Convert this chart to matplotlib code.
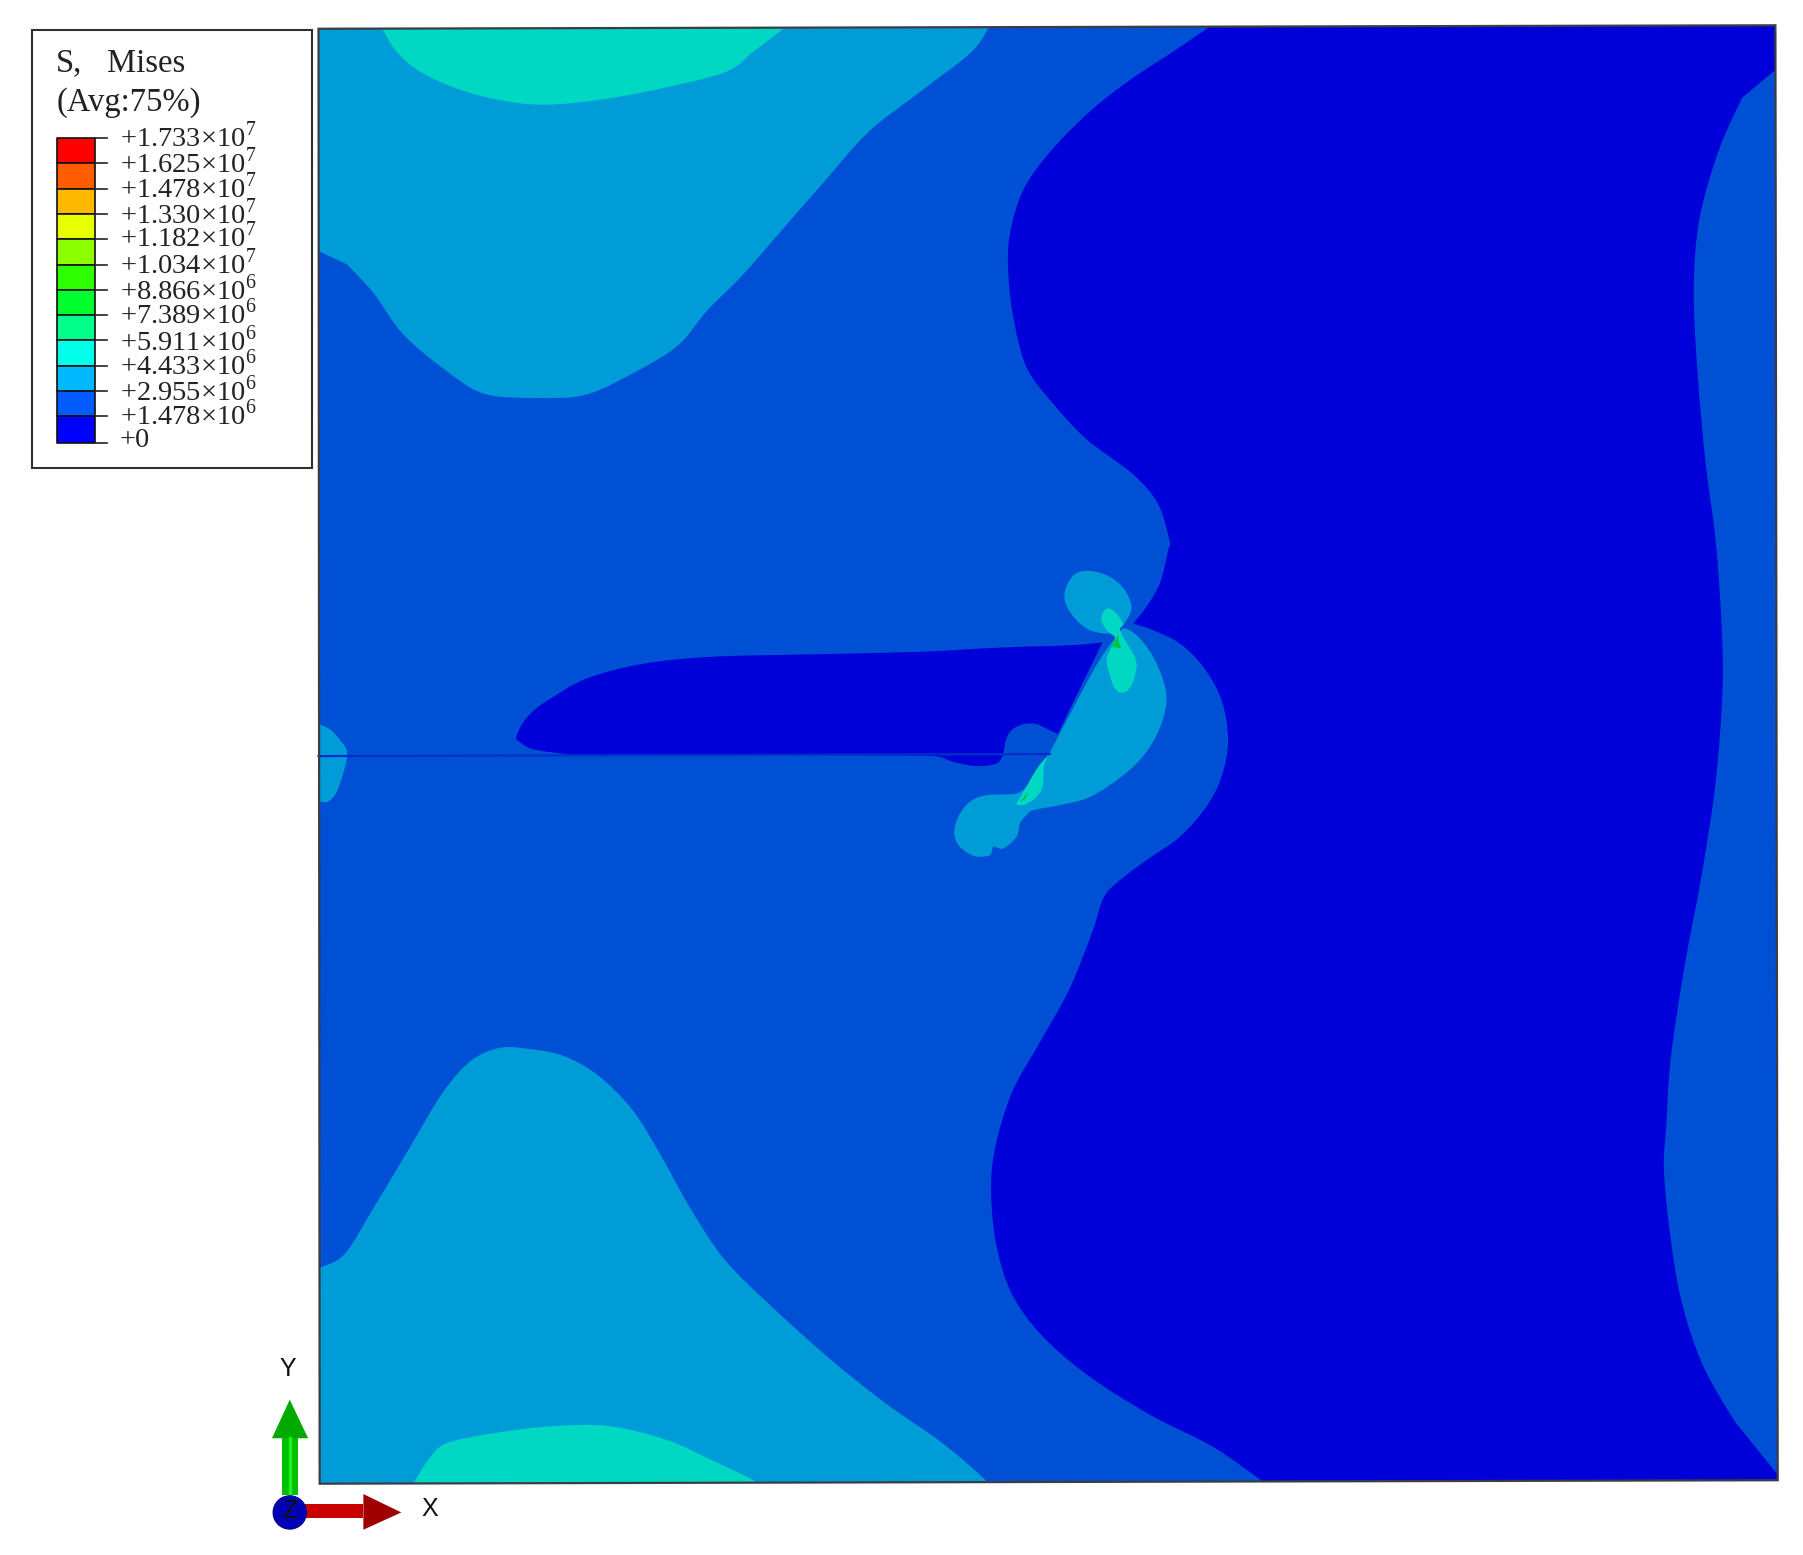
"""Contorno S, Mises de la placa con grieta, redibujado con matplotlib."""

import matplotlib

matplotlib.use("Agg")
from matplotlib import pyplot as plt
from matplotlib.patches import Circle, PathPatch, Polygon
from matplotlib.path import Path

plt.rcParams["mathtext.fontset"] = "custom"
plt.rcParams["mathtext.rm"] = "Liberation Serif"

DARK = "#0000d8"
MID = "#0050d6"
LIGHT = "#009cd8"
TEAL = "#00d8c4"
DEEP_GREEN = "#00c040"

# leyenda
LEGEND_LABELS = [
    "+1.733×10$^{7}$", "+1.625×10$^{7}$", "+1.478×10$^{7}$", "+1.330×10$^{7}$",
    "+1.182×10$^{7}$", "+1.034×10$^{7}$", "+8.866×10$^{6}$", "+7.389×10$^{6}$",
    "+5.911×10$^{6}$", "+4.433×10$^{6}$", "+2.955×10$^{6}$", "+1.478×10$^{6}$",
    "+0",
]
LEGEND_COLORS = [
    "#ff0000", "#ff5c00", "#ffb900", "#e8ff00", "#8bff00", "#2eff00",
    "#00ff2e", "#00ff8b", "#00ffe8", "#00b9ff", "#005cff", "#0000ff",
]
LEGEND_TICKS = [120, 142, 164, 186, 208, 230, 252, 274, 296, 318, 340, 362, 385]
LABEL_ROWS = [119, 142, 164, 186, 206, 230, 252, 273, 297, 318, 340, 361, 383]

# contornos, en coordenadas de la imagen
PLATE = [(277, 25), (1544, 22), (1546, 1287), (278, 1290)]

DARK_REGION = [
    (1052, 23), (1020, 45), (985, 68), (950, 95), (915, 130), (890, 165), (878, 205),
    (877, 240), (882, 280), (893, 320), (915, 350), (945, 382), (985, 412), (1007, 438),
    (1017, 470), (1016, 478), (1008.7, 507), (997, 527.6), (985.5, 542), (985.5, 542),
    (1003, 548), (1026, 559.5), (1046.4, 579.8), (1062.3, 608.7), (1068, 643.5),
    (1062.3, 675.4), (1049, 701.5), (1026, 727.6), (997, 747.9), (974, 765.3),
    (960, 780), (950, 810), (930, 860), (905, 905), (880, 950), (865, 1000), (862, 1040),
    (867, 1085), (880, 1125), (905, 1160), (945, 1195), (1000, 1230), (1055, 1258),
    (1098, 1288), (1098, 1288), (1550, 1288), (1550, 1288), (1546, 1282), (1520, 1250),
    (1505, 1230), (1480, 1185), (1462, 1130), (1452, 1070), (1447, 1015), (1449, 980),
    (1453, 920), (1465, 840), (1480, 760), (1492, 680), (1498, 600), (1497, 540),
    (1492, 470), (1483, 400), (1476, 320), (1473, 250), (1478, 190), (1495, 130),
    (1515, 85), (1515, 85), (1545, 60), (1545, 60), (1545, 20), (1545, 20), (1052, 20),
    (1052, 20),
]
TOP_LIGHT = [
    (270, 20), (270, 20), (862, 20), (862, 20), (845, 45), (800, 80), (755, 115), (715, 160),
    (680, 200), (645, 240), (615, 270), (590, 300), (555, 322), (510, 343), (465, 346),
    (420, 342), (385, 320), (350, 290), (325, 255), (302, 230), (302, 230), (270, 215),
    (270, 215),
]
TOP_TEAL = [
    (332, 20), (332, 24), (345, 45), (365, 62), (400, 78), (440, 88), (475, 91), (520, 87),
    (570, 78), (630, 63), (655, 45), (682, 24), (682, 20), (682, 20),
]
BOTTOM_LIGHT = [
    (270, 1106), (270, 1106), (279, 1102), (300, 1090), (325, 1050), (355, 1000), (385, 950),
    (410, 922), (435, 911), (460, 912), (490, 918), (520, 935), (550, 965), (575, 1005),
    (600, 1050), (630, 1095), (670, 1135), (720, 1180), (770, 1220), (820, 1255), (858, 1288),
    (858, 1295), (858, 1295), (270, 1295), (270, 1295),
]
BOTTOM_TEAL = [
    (358, 1295), (358, 1295), (360, 1289), (372, 1270), (388, 1255), (430, 1246), (480, 1240),
    (530, 1240), (580, 1252), (620, 1270), (657, 1288), (660, 1295), (660, 1295),
]
EDGE_BLOB = [
    (270, 630), (270, 630), (278, 630), (288, 635), (297, 645), (302, 655), (298, 674),
    (292, 690), (285, 697), (278, 697), (270, 697), (270, 697),
]
CRACK_LENS = [
    (449, 641), (455, 628), (465, 617), (478, 608), (510, 590), (560, 577), (620, 571),
    (700, 569), (800, 566.7), (870, 563), (930, 561), (958.8, 558.6), (958.8, 558.6),
    (920, 638), (920, 638), (914.5, 656), (914.5, 656), (872.5, 656), (872.5, 656),
    (866.7, 663.8), (849, 666), (829, 662.4), (817, 658), (800, 657), (800, 657),
    (495, 656), (495, 656), (464, 651.5), (452, 645),
]
LENS_BUMP = [
    (872.5, 655.7), (872.5, 655.7), (874.8, 643.5), (879.7, 634.8), (889.9, 629.6),
    (901.4, 629.6), (911.6, 634.2), (920.3, 638.3), (920.3, 638.3), (914.5, 655.7),
    (914.5, 655.7),
]
TIP_LIGHT = [
    (978.3, 546.4), (991.3, 555.1), (1002.9, 571.1), (1011.6, 591.3), (1014.5, 608.7),
    (1010.1, 629), (1000, 649.3), (985.5, 666.7), (965.2, 682.6), (944.9, 694.2),
    (921.7, 700), (898.6, 704.4), (892.8, 708.7), (887, 716), (884, 727.6), (872.5, 737.7),
    (863.8, 736.3), (860.9, 743.5), (847.8, 744.4), (834.8, 736.3), (829.9, 724.7),
    (833.3, 710.2), (843.5, 697.1), (858, 691.3), (884, 689.9), (895.7, 681.2),
    (895.7, 681.2), (905.8, 663.8), (911.6, 656.6), (921.7, 637.7), (947.8, 588.4),
    (960.9, 566.7), (971, 553.7),
]
UPPER_BLOB = [
    (976.8, 543.5), (984, 529), (978.3, 513.1), (965.2, 501.5), (947.8, 496.3),
    (934.8, 499.2), (926.7, 511.6), (926.7, 524.7), (936.2, 539.2), (947.8, 547.9),
    (962.3, 550.8), (971, 547.9),
]
UPPER_TEAL = [
    (973.9, 546.4), (976.8, 542.7), (971, 533.4), (963.8, 529), (958.8, 533.4),
    (958, 540.6), (963.8, 549.3), (969.6, 554.2), (966.7, 562.4), (962.3, 574),
    (965.2, 587), (969.6, 598.6), (976.8, 602.4), (984, 595.7), (988.4, 579.8),
    (985.5, 568.2), (978.3, 556.6),
]
UPPER_GREEN = [
    (972.5, 551.3), (972.5, 551.3), (966.7, 562.4), (966.7, 562.4), (975.4, 563.8),
    (975.4, 563.8), (973, 558),
]
LOWER_TEAL = [
    (911.6, 656.6), (911.6, 656.6), (907.8, 666.7), (906.7, 684.1), (900, 694.2), (889.9, 700),
    (883.5, 699.2), (883.5, 699.2), (894.2, 681.2), (902.9, 666.7),
]
LOWER_GREEN = [
    (887, 697.1), (887, 697.1), (894.2, 688.4), (894.2, 688.4), (892.2, 694.2), (892.2, 694.2),
]
CRACK_X = [277, 913]
CRACK_Y = [657.4, 655.6]


def smooth_patch(points, color, zorder):
    """Parche cerrado que pasa por los puntos; un punto repetido deja una esquina."""
    count = len(points)
    vertices = [points[0]]
    codes = [Path.MOVETO]
    for index in range(count):
        before = points[index - 1]
        start = points[index]
        end = points[(index + 1) % count]
        after = points[(index + 2) % count]
        if start == end:
            continue
        vertices += [
            (start[0] + (end[0] - before[0]) / 6, start[1] + (end[1] - before[1]) / 6),
            (end[0] - (after[0] - start[0]) / 6, end[1] - (after[1] - start[1]) / 6),
            end,
        ]
        codes += [Path.CURVE4, Path.CURVE4, Path.CURVE4]
    return PathPatch(Path(vertices, codes), facecolor=color, edgecolor="none", zorder=zorder)


figure = plt.figure(figsize=(18.03, 15.55), dpi=100)
axis = figure.add_axes((0, 0, 1, 1))
axis.set_xlim(0, 1568)
axis.set_ylim(1352, 0)
axis.axis("off")

plate = Polygon(PLATE, closed=True, facecolor=MID, edgecolor="none", zorder=1)
axis.add_patch(plate)

layers = [
    (DARK_REGION, DARK), (TOP_LIGHT, LIGHT), (TOP_TEAL, TEAL), (BOTTOM_LIGHT, LIGHT),
    (BOTTOM_TEAL, TEAL), (EDGE_BLOB, LIGHT), (CRACK_LENS, DARK), (LENS_BUMP, MID),
    (TIP_LIGHT, LIGHT), (UPPER_BLOB, LIGHT), (UPPER_TEAL, TEAL), (UPPER_GREEN, DEEP_GREEN),
    (LOWER_TEAL, TEAL), (LOWER_GREEN, DEEP_GREEN),
]
for order, (outline, color) in enumerate(layers):
    patch = smooth_patch(outline, color, 2 + order * 0.1)
    axis.add_patch(patch)
    patch.set_clip_path(plate)

axis.plot(CRACK_X, CRACK_Y, color="#0030c8", linewidth=1.6, zorder=5)
axis.add_patch(Polygon(PLATE, closed=True, fill=False, edgecolor="#3c3c46", linewidth=1.6, zorder=6))

# leyenda
axis.add_patch(Polygon(
    [(27.5, 26), (271, 26), (271, 407), (27.5, 407)],
    closed=True, facecolor="white", edgecolor="#303030", linewidth=1.5, zorder=7,
))
serif = ["Liberation Serif", "DejaVu Serif"]
axis.text(49, 55, "S,", family=serif, fontsize=23.5, color="#222222", va="center", zorder=8)
axis.text(93, 55, "Mises", family=serif, fontsize=23.5, color="#222222", va="center", zorder=8)
axis.text(49, 89, "(Avg:75%)", family=serif, fontsize=23.5, color="#222222", va="center", zorder=8)
for color, top, bottom in zip(LEGEND_COLORS, LEGEND_TICKS[:-1], LEGEND_TICKS[1:]):
    axis.fill_between([50, 82.5], top, bottom, facecolor=color, edgecolor="#101010", linewidth=1.2, zorder=8)
for tick in LEGEND_TICKS:
    axis.plot([82.5, 93], [tick, tick], color="#222222", linewidth=1.2, zorder=8)
for label, row in zip(LEGEND_LABELS, LABEL_ROWS):
    axis.text(104, row, label, family=serif, fontsize=20.5, color="#222222", va="center", zorder=8)

# triada de ejes
axis.fill_between([245, 259], 1250, 1300, color="#00c000", linewidth=0, zorder=8)
axis.plot([252, 252], [1250, 1300], color="#20f020", linewidth=2.5, zorder=8.1)
axis.add_patch(Polygon([(252, 1217), (268, 1250.5), (236.5, 1250.5)], closed=True, facecolor="#00aa00", edgecolor="none", zorder=8))
axis.fill_between([265, 316], 1308, 1320, color="#c80000", linewidth=0, zorder=8)
axis.add_patch(Polygon([(349, 1315), (316, 1299), (316, 1330)], closed=True, facecolor="#a00000", edgecolor="none", zorder=8))
axis.add_patch(Circle((252, 1315), 14.5, facecolor="#0000b4", edgecolor="#000090", linewidth=0.8, zorder=9))
sans = ["Liberation Sans", "DejaVu Sans"]
axis.text(252, 1314, "Z", family=sans, fontsize=18, color="#101010", ha="center", va="center", zorder=10)
axis.text(250, 1190, "Y", family=sans, fontsize=18, color="#101010", ha="center", va="center", zorder=10)
axis.text(374, 1312, "X", family=sans, fontsize=18, color="#101010", ha="center", va="center", zorder=10)

figure.savefig("out.png", dpi=100, facecolor="white")
plt.close(figure)
